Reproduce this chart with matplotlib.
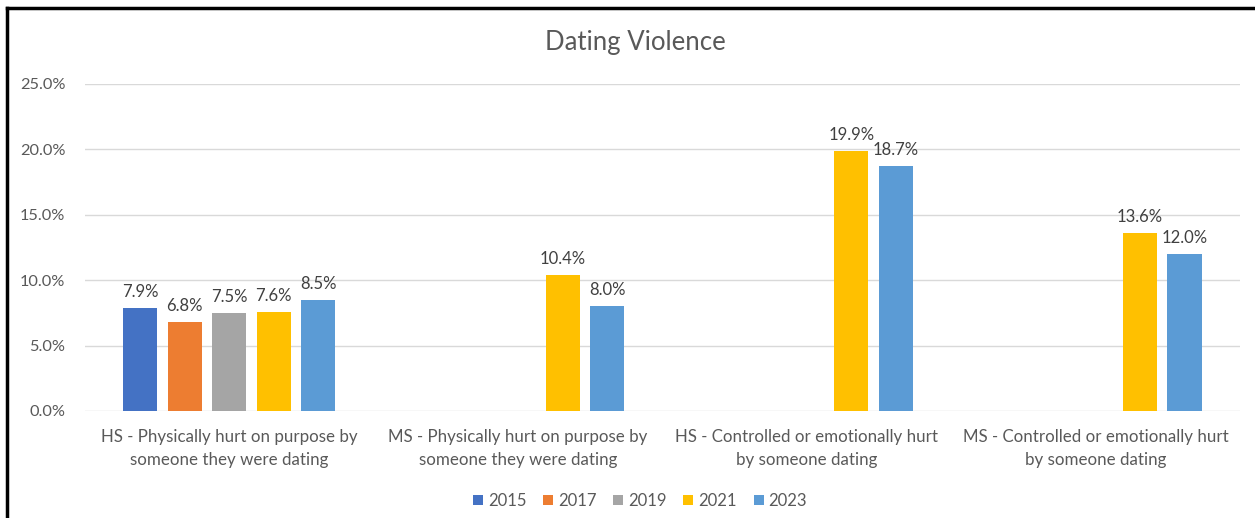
import numpy as np
import matplotlib.pyplot as plt
from matplotlib.lines import Line2D

plt.rcParams['font.family'] = ['Lato', 'DejaVu Sans']

# Dados
categorias = ["HS - Physically hurt on purpose by\nsomeone they were dating",
              "MS - Physically hurt on purpose by\nsomeone they were dating",
              "HS - Controlled or emotionally hurt\nby someone dating",
              "MS - Controlled or emotionally hurt\nby someone dating"]
anos = ["2015", "2017", "2019", "2021", "2023"]
v2015 = [7.9, np.nan, np.nan, np.nan]
v2017 = [6.8, np.nan, np.nan, np.nan]
v2019 = [7.5, np.nan, np.nan, np.nan]
v2021 = [7.6, 10.4, 19.9, 13.6]
v2023 = [8.5, 8.0, 18.7, 12.0]
series = [v2015, v2017, v2019, v2021, v2023]
cores = ["#4472C4", "#ED7D31", "#A5A5A5", "#FFC000", "#5B9BD5"]

texto = "#595959"

fig = plt.figure(figsize=(12.55, 5.18), dpi=100)
ax = fig.add_axes([0.0677, 0.2066, 0.9203, 0.6314])

x = np.arange(len(categorias))
largura = 0.118
passo = 0.154
for i, (vals, cor, ano) in enumerate(zip(series, cores, anos)):
    pos = x + (i - 2) * passo
    vals = np.array(vals, dtype=float)
    ax.bar(pos, vals, width=largura, color=cor, label=ano, zorder=3)
    for p, v in zip(pos, vals):
        if not np.isnan(v):
            ax.text(p, v + 0.6, f"{v:.1f}%", ha="center", va="bottom",
                    fontsize=12, color="#404040")

ax.set_xlim(-0.5, len(categorias) - 0.5)
ax.set_ylim(0, 25)
ax.set_yticks(np.arange(0, 26, 5))
ax.set_yticklabels([f"{t:.1f}%" for t in np.arange(0, 26, 5)])
ax.set_xticks(x)
ax.set_xticklabels(categorias, linespacing=1.55)
ax.tick_params(axis="both", length=0, colors=texto)
ax.tick_params(axis="x", pad=13, labelsize=12.2)
ax.tick_params(axis="y", pad=14, labelsize=11.8)
ax.yaxis.grid(True, color="#D9D9D9", linewidth=1, zorder=0)
for s in ax.spines.values():
    s.set_visible(False)

fig.text(0.506, 0.918, "Dating Violence", ha="center", va="center",
         fontsize=18.5, color=texto)

ax.legend(loc="center", bbox_to_anchor=(0.51, 0.033), bbox_transform=fig.transFigure,
          ncol=5, frameon=False, fontsize=12, handlelength=0.6, handleheight=0.6,
          handletextpad=0.3, columnspacing=1.0, labelcolor=texto)

# Moldura (esquerda e topo)
fig.add_artist(Line2D([0.0056, 0.0056], [0, 0.985], color="black", linewidth=2.5,
                      transform=fig.transFigure))
fig.add_artist(Line2D([0.0056, 1], [0.985, 0.985], color="black", linewidth=2.5,
                      transform=fig.transFigure))

fig.savefig("out.png", dpi=100)
